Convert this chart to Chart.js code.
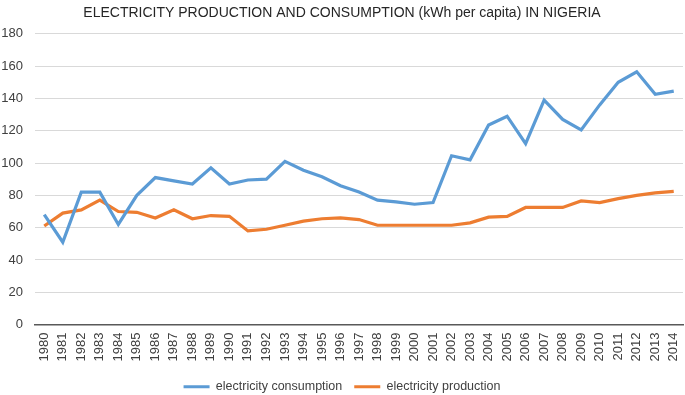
<!DOCTYPE html>
<html>
<head>
<meta charset="utf-8">
<script src="https://cdn.jsdelivr.net/npm/chart.js@4"></script>
<style>
  html, body { margin: 0; padding: 0; background: #fff; }
  #wrap { width: 685px; height: 395px; }
</style>
</head>
<body>
<div id="wrap"><canvas id="chart"></canvas></div>
<script>
// --- data ---
const years = ['1980','1981','1982','1983','1984','1985','1986','1987','1988','1989',
  '1990','1991','1992','1993','1994','1995','1996','1997','1998','1999',
  '2000','2001','2002','2003','2004','2005','2006','2007','2008','2009',
  '2010','2011','2012','2013','2014'];
const consumption = [68, 51, 82, 82, 62, 80, 91, 89, 87, 97,
  87, 89.5, 90, 101, 95.5, 91.5, 86, 82, 77, 76,
  74.5, 75.5, 104.5, 102, 123.5, 129, 112, 139, 127, 120.5,
  136, 150, 156.5, 142.5, 144.5];
const production = [61, 69, 71, 77, 70, 69.5, 66, 71, 65.5, 67.5,
  67, 58, 59, 61.5, 64, 65.5, 66, 65, 61.5, 61.5,
  61.5, 61.5, 61.5, 63, 66.5, 67, 72.5, 72.5, 72.5, 76.5,
  75.5, 78, 80, 81.5, 82.5];
const yTicks = [0, 20, 40, 60, 80, 100, 120, 140, 160, 180];

const blue = '#5B9BD5';
const orange = '#ED7D31';
const textColor = '#404040';
const fontFamily = '"Liberation Sans", Arial, sans-serif';

new Chart(document.getElementById('chart'), {
  type: 'line',
  data: {
    labels: years,
    datasets: [
      { label: 'electricity consumption', data: consumption, borderColor: blue, backgroundColor: blue,
        borderWidth: 3.2, pointRadius: 0, tension: 0, fill: false },
      { label: 'electricity production', data: production, borderColor: orange, backgroundColor: orange,
        borderWidth: 3.2, pointRadius: 0, tension: 0, fill: false }
    ]
  },
  options: {
    responsive: true,
    maintainAspectRatio: false,
    animation: false,
    layout: { padding: { left: 1, right: 2, top: 0, bottom: -8 } },
    scales: {
      x: {
        offset: true,
        grid: { display: false, drawTicks: false },
        border: { color: '#595959', width: 1.5 },
        ticks: { color: textColor, font: { family: fontFamily, size: 13 }, maxRotation: 90, minRotation: 90,
          autoSkip: false, padding: 8 },
        afterFit: s => { s.paddingLeft = 0; s.paddingRight = 0; s.height -= 1; }
      },
      y: {
        min: 0, max: 180,
        afterBuildTicks: axis => { axis.ticks = yTicks.map(v => ({ value: v })); },
        grid: { color: '#d9d9d9', drawTicks: false },
        border: { display: false },
        ticks: { color: textColor, font: { family: fontFamily, size: 13 }, padding: 12 },
        afterFit: s => { s.width = 34; }
      }
    },
    plugins: {
      title: {
        display: true,
        text: 'ELECTRICITY PRODUCTION AND CONSUMPTION (kWh per capita) IN NIGERIA',
        color: '#262626',
        font: { family: fontFamily, size: 14, weight: 'normal' },
        padding: { top: 5, bottom: 12 }
      },
      legend: {
        position: 'bottom',
        labels: {
          color: textColor,
          font: { family: fontFamily, size: 12.5 },
          usePointStyle: true,
          pointStyle: 'line',
          pointStyleWidth: 26,
          boxHeight: 3,
          padding: 12
        }
      },
      tooltip: { enabled: false }
    }
  }
});
</script>
</body>
</html>
